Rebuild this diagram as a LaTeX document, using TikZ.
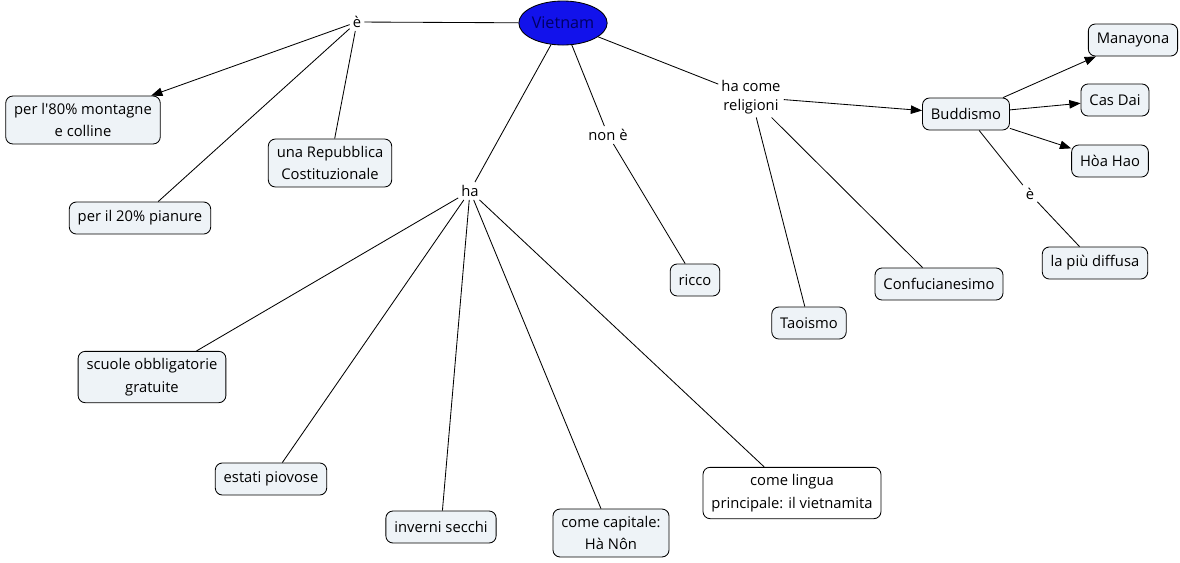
\documentclass[tikz,border=0pt]{standalone}
\usepackage{fontspec}
\setmainfont{Open Sans}
\usetikzlibrary{arrows.meta}
\usetikzlibrary{shapes.geometric}

\definecolor{conceptfill}{RGB}{238,243,247}
\definecolor{vnblue}{RGB}{18,18,235}
\definecolor{vntext}{RGB}{0,0,100}

\tikzset{
  concept/.style={draw, line width=0.6pt, rounded corners=5pt, fill=conceptfill,
    align=center, inner xsep=6pt, inner ysep=5pt, minimum height=0.8cm,
    font=\fontsize{10.5}{16}\selectfont},
  linkword/.style={inner sep=2pt, align=center, font=\fontsize{10.5}{14}\selectfont},
  every path/.style={line width=0.6pt},
  ->/.style={-{Triangle[length=8pt,width=6pt]}},
}

\begin{document}
\begin{tikzpicture}[x=0.025cm, y=-0.025cm]
                \useasboundingbox (0,0) rectangle (1180,562);
                \node[ellipse, draw, fill=vnblue, text=vntext, minimum width=2.2cm, minimum height=1.1cm,
                  inner sep=0pt, font=\fontsize{11.5}{14}\selectfont] (vietnam) at (563,23) {Vietnam};
                % e' (left)
                \node[linkword] (e1) at (357,22) {è};
                \node[concept] (montagne) at (83,120) {per l\textquotesingle 80\% montagne\\e colline};
                \node[concept] (repubblica) at (330,163) {una Repubblica\\Costituzionale};
                \node[concept] (pianure) at (140,218) {per il 20\% pianure};
                % ha
                \node[linkword] (ha) at (470,191) {ha};
                \node[concept] (scuole) at (152,377) {scuole obbligatorie\\gratuite};
                \node[concept] (estati) at (271,479) {estati piovose};
                \node[concept] (inverni) at (441,527) {inverni secchi};
                \node[concept] (capitale) at (611,533) {come capitale:\\Hà Nôn};
                \node[concept, fill=white] (lingua) at (792,493) {come lingua\\principale: il vietnamita};
                % non e'
                \node[linkword] (none) at (608,135) {non è};
                \node[concept] (ricco) at (695,280) {ricco};
                % religioni
                \node[linkword] (religioni) at (751,97) {ha come\\religioni};
                \node[concept] (buddismo) at (966,114) {Buddismo};
                \node[concept] (taoismo) at (809,323) {Taoismo};
                \node[concept] (confucio) at (939,284) {Confucianesimo};
                \node[concept] (manayona) at (1133,40) {Manayona};
                \node[concept] (casdai) at (1115,100) {Cas Dai};
                \node[concept] (hoahao) at (1110,161) {Hòa Hao};
                \node[linkword] (e2) at (1030,194) {è};
                \node[concept] (diffusa) at (1095,263) {la più diffusa};
                \draw (vietnam) to (e1);
                \draw[->] (e1) to (montagne);
                \draw (e1) to (repubblica);
                \draw (e1) to (pianure);
                \draw (vietnam) to (ha);
                \draw (ha) to (scuole);
                \draw (ha) to (estati);
                \draw (ha) to (inverni);
                \draw (ha) to (capitale);
                \draw (ha) to (lingua);
                \draw (vietnam) to (none);
                \draw (none) to (ricco);
                \draw (vietnam) to (religioni);
                \draw[->] (religioni) to (buddismo);
                \draw (religioni) to (taoismo);
                \draw (religioni) to (confucio);
                \draw[->] (buddismo) to (manayona);
                \draw[->] (buddismo) to (casdai);
                \draw[->] (buddismo) to (hoahao);
                \draw (buddismo) to (e2);
                \draw (e2) to (diffusa);
            \end{tikzpicture}
\end{document}
